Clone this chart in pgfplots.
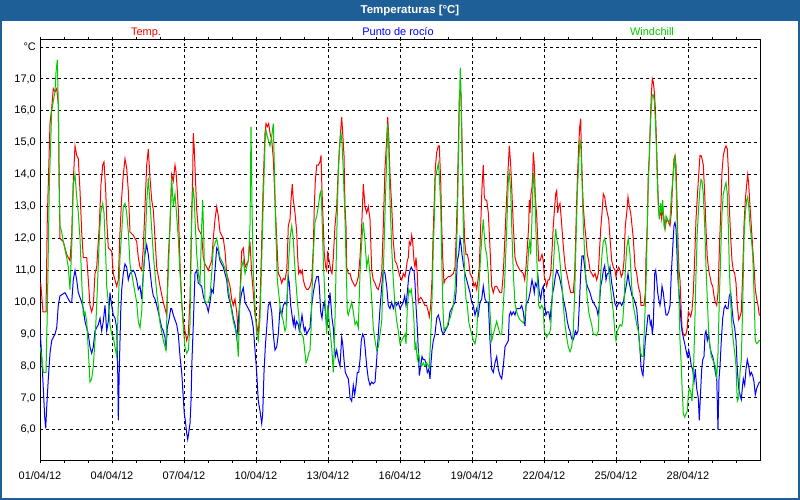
\documentclass[border=0pt]{standalone}
\usepackage{fontspec}
\setmainfont{Liberation Sans}
\usepackage{pgfplots}
\pgfplotsset{compat=1.18}
\usepackage{pgfplotstable}

\definecolor{barblue}{RGB}{30,95,152}
\definecolor{tred}{RGB}{255,0,0}
\definecolor{dblue}{RGB}{0,0,255}
\definecolor{wgreen}{RGB}{0,204,0}

% x = hours since 01/04/12 00:00, y = degrees C
\pgfplotstableread{
h t
0.7 10.6
3 9.7
6 9.7
7.3 12.6
10 15.6
11.7 16.1
13.3 16.7
15 16.6
16.7 16.7
18.3 16.2
19.3 13.5
20 12.0
23.3 11.9
26.7 11.5
30 11.3
31.7 12.1
33.3 13.8
35 14.9
36.7 14.6
38.3 14.5
40 13.5
41.7 12.2
43.3 11.4
46.7 11.4
48.3 10.7
50 9.9
51.7 9.7
53.3 9.9
55 10.9
56.7 11.1
59.3 12.4
61 13.7
62.7 14.3
64 14.4
65.7 13.5
66.7 12.6
68.3 11.7
71.7 11.6
73.3 10.9
76.7 10.5
78.3 10.7
80 12.2
81.7 13.3
83.3 14.0
85 14.5
86.7 14.2
88.3 13.5
90 12.2
93.3 12.1
96.7 11.9
98.3 11.4
100 11.1
101.7 11.0
103.3 11.7
105 13.0
106.7 14.3
108.3 14.8
110 13.9
111.7 13.2
113.3 12.9
115 12.0
116.7 11.1
120 10.5
123.3 10.0
126.7 9.6
128.3 11.4
130 12.4
131.7 14.0
133.3 13.8
135 14.3
136 14.1
137.3 13.5
138.3 12.9
140 11.2
141.7 10.0
143.3 9.4
146.7 8.8
148.3 9.0
150 10.1
151.7 12.8
152.7 14.0
153.3 15.3
154.3 14.8
155.3 14.0
156.7 12.9
158.3 12.3
161.7 12.1
163.3 11.4
165 11.2
168.3 11.0
171.7 11.3
173.3 12.0
175 12.6
176.7 13.0
178.3 12.7
180 12.2
183.3 12.0
185 11.6
186.7 10.9
190 10.5
191.7 10.1
193.3 9.9
195 10.1
196.7 9.7
198.3 9.0
200 10.3
201.7 11.6
203.3 11.7
205 11.1
208.3 11.3
210 11.9
211.7 10.9
213.3 10.3
215 9.6
216.7 9.3
218.3 9.0
220 9.9
221.7 11.9
223.3 13.8
225 15.3
226 15.6
227.3 15.5
228.7 15.6
230 15.3
231.7 15.1
233.3 14.5
235 13.2
236.7 12.0
238.3 10.9
240 10.8
241.7 10.6
243.3 10.75
245 10.7
246.7 11.0
247.3 11.4
248.3 12.4
250 12.6
251 13.2
252.3 13.7
253.3 13.2
254.3 13.0
255.3 12.7
256.7 12.2
257.7 11.4
258.7 10.9
260 11.0
261 10.9
262.3 11.0
263.3 10.7
265 10.5
266.7 10.4
268.3 10.4
270 10.5
271.7 10.7
273.3 11.7
274.3 13.0
275.3 13.8
276.7 14.3
278.3 14.3
280 14.4
281 14.6
282 13.5
283.3 12.4
284.3 11.5
285.7 11.1
286.7 11.0
287.7 11.6
288.3 11.4
289.3 11.3
290.7 11.0
292 10.9
293.3 11.4
295 12.4
296.7 13.0
298.3 14.2
299.3 14.8
300.7 15.4
301.7 15.8
302.7 15.3
304 14.6
305 13.0
306 12.4
306.7 11.1
308.3 10.9
310 10.9
311.7 10.7
313.3 10.6
315 10.5
316.7 10.6
318.3 10.8
320 11.4
321.7 12.4
323.3 13.7
325 13.0
326.7 12.8
328.3 13.0
330 12.6
331.7 11.0
333.3 10.7
335 10.6
336.7 10.45
338.3 10.4
340 10.6
341.7 10.9
343.3 12.4
345 14.2
346.7 15.1
347.7 15.8
348.7 15.2
350 14.0
351.7 13.0
353.3 11.9
355 11.3
356.7 11.2
358.3 11.0
360 10.8
361.7 10.7
363.3 10.9
365 10.8
366 11.0
367.3 11.3
368.3 11.4
369.3 11.9
370.7 11.8
371.7 12.1
372.7 11.9
374 11.3
375 11.1
376 11.4
377.3 10.9
378.3 10.0
379.3 10.1
380.7 10.15
382 10.1
383.3 10.0
385 9.9
386.7 9.9
388.3 9.7
389.3 9.55
390.7 9.9
392 10.7
393.3 12.3
394.3 13.2
395.3 14.2
396.7 14.7
398.3 14.9
399.3 14.9
400.7 13.8
401.7 12.4
402.7 11.4
404 10.6
405 10.7
406.7 10.75
408.3 10.8
410 10.8
411.7 10.85
413.3 10.9
415 11.1
416 11.9
417.3 13.2
418.3 14.8
419.3 16.4
420 16.6
421 16.5
422 15.1
423.3 13.2
424.7 11.9
426 11.5
427.3 11.5
428.7 11.3
430 10.9
431.7 10.8
432.7 10.7
434 10.5
435.3 10.6
436.7 10.4
438 10.7
439.3 11.1
440.7 12.4
442 13.6
443.3 14.3
444.3 13.3
445.3 13.2
446.7 13.2
448.3 12.8
450 11.7
451.7 10.5
453.3 10.3
455 10.5
456.7 10.5
458.3 10.4
460 10.3
461.7 10.3
463.3 10.9
465 12.1
466.7 13.3
468.3 14.3
469.3 14.9
470.7 14.3
471.7 13.6
473.3 12.4
475 11.4
476.7 11.2
478.3 11.1
480 11.0
481.7 10.95
483.3 10.9
484.7 10.7
486 11.1
487.3 11.7
488.7 12.4
489.3 13.2
490 12.8
491 13.4
492 13.6
492.7 14.0
493.3 14.7
494.3 14.3
495.3 13.3
496.7 12.7
497.7 12.0
498.7 11.3
500 11.3
501 11.4
502 11.5
503.3 11.3
504.3 10.8
505.3 10.7
506.7 10.5
508 10.7
509.3 10.7
510.7 10.9
512 11.6
513.3 12.4
514.7 13.0
515.7 13.4
516.7 13.5
517.7 12.8
518.7 13.0
520 13.1
521.3 12.6
522.7 12.0
524 11.5
525.3 11.1
526.7 10.9
528 10.7
529.3 10.5
530.7 10.3
532 10.3
533.3 10.3
534.7 10.9
536 12.4
537.3 13.8
538.7 14.9
539.7 15.5
540.7 15.75
541.3 14.8
542.3 13.8
543.3 13.0
544.7 12.4
546 12.0
547.3 11.5
548.7 11.3
550 11.0
551.7 10.9
553.3 10.8
555 10.9
556.7 10.7
558.3 10.9
559.3 11.5
560.7 12.3
562 12.8
563.3 13.4
564.7 13.3
566 13.0
567.3 12.8
568.7 12.6
570 12.0
571.7 11.3
573.3 11.1
575 11.0
576 10.8
577.3 11.0
578.7 11.1
580 11.0
581.3 10.8
582.7 10.9
584 11.3
585.3 12.4
586.7 12.8
588 13.3
589.3 13.0
590.7 12.8
592 12.4
593.3 12.0
595 11.1
596.7 10.9
598.3 10.5
600 10.3
601 9.9
602.7 9.9
604 9.9
605.3 10.3
606 11.4
607.3 12.4
608.3 14.0
609.3 14.6
610.3 15.6
611.3 16.5
612.3 17.0
613.3 16.9
614.3 16.6
615.3 16.1
616.3 15.2
617.3 14.1
618.3 13.2
619.3 12.7
620.7 12.8
621.7 12.6
622.7 13.0
624 12.6
625 12.3
626 12.5
627.3 12.6
628.7 12.5
630 12.4
631.3 12.8
632.7 13.8
634 14.5
635 14.6
636 14.3
637 13.2
638 11.8
639 11.0
640 10.7
641 9.9
642 9.2
643.3 9.0
644.7 8.95
646 9.0
647.3 9.2
648.3 9.7
649.3 9.65
650.7 9.55
652 9.75
653.3 10.3
654.7 11.4
656 12.6
657.3 13.3
658.7 14.0
660 14.6
661 14.6
662 14.5
663.3 14.3
664.7 13.4
666 12.3
667.3 11.4
668.7 11.0
670 10.8
671.3 10.6
672.7 10.5
674 10.2
675.3 10.0
676.7 9.9
678 10.3
679.3 11.6
680.7 12.8
682 14.1
683.3 14.6
684.7 14.8
686 14.9
687.3 14.8
688.3 14.2
689.3 13.0
690.7 12.0
692 11.3
693.3 11.0
694.7 10.9
696 10.6
697.3 9.9
698.7 9.45
700 9.55
701.3 9.7
702.7 10.9
704 12.4
705.3 13.2
706.7 13.7
707.7 14.0
708.7 13.7
710 13.0
711.3 12.4
712.7 11.7
714 11.1
715.3 10.4
716.7 10.1
718 9.9
719.3 9.6
720 9.6
}\temp

\pgfplotstableread{
h t
0 9.2
1.7 8.3
3.3 7.3
4.7 6.4
5.7 6.05
6.7 6.7
8.3 7.6
10 8.4
11.7 8.8
15 9.0
16.7 9.2
18.3 9.9
20 10.2
25 10.3
26.7 10.2
30 10.0
31.7 10.0
33.3 10.7
35 11.0
36.7 10.7
38.3 10.3
41.7 10.0
43.3 9.8
45 9.4
48.3 9.0
50 8.6
51.7 8.4
53.3 8.6
55 9.1
58.3 9.3
60 9.5
61.7 9.1
63.3 9.4
65 9.9
66.7 9.1
68.3 9.4
70 10.3
71.7 9.9
73.3 9.6
75 9.5
76.7 9.2
77.7 7.9
78.3 6.3
79.3 7.9
80.7 9.7
81.7 10.4
83.3 10.9
85 11.2
86.7 11.1
88.3 10.7
90 10.9
93.3 11.0
95 10.9
96.7 10.7
98.3 10.4
100 10.5
101.7 10.1
103.3 10.9
105 11.5
106.7 11.8
108.3 11.5
110 11.0
111.7 10.5
113.3 10.2
115 10.1
116.7 9.9
118.3 9.7
120 9.45
121.7 9.2
123.3 9.1
125 8.9
126 8.5
127.3 9.2
129.3 9.5
130.7 9.8
131.7 9.8
133.3 9.6
135 9.45
136.7 9.3
138.3 9.0
140 8.3
141.7 7.8
143.3 7.0
144.3 6.5
145.3 6.3
146.7 5.9
147.7 5.7
148.7 5.9
150 6.2
151 6.9
152 8.2
153.3 9.3
155 10.9
156.7 11.0
158.3 10.6
161.7 10.5
163.3 10.2
165 10.0
166.7 9.9
168.3 9.7
170 10.0
171.7 10.4
173.3 10.3
175 11.0
176.7 11.7
178.3 11.6
180 11.3
183.3 11.1
185 10.9
186.7 10.7
188.3 10.2
190 10.0
191.7 9.8
193.3 9.5
195 9.3
196.7 8.9
198.3 9.4
200 10.0
201.7 10.3
203.3 10.45
205 10.0
208.3 9.8
210 9.7
211.7 9.5
213.3 9.2
215 8.5
216.7 7.8
218.3 6.9
220 6.6
221.7 6.2
222.7 6.5
224 7.8
225.3 8.6
226.7 9.2
228.3 9.9
230 10.0
231.7 9.7
233.3 9.0
235 8.5
236.7 8.6
238.3 9.0
240 9.8
241.7 9.6
243.3 9.9
245 10.0
246.7 9.9
248.3 10.8
249.3 10.6
250.7 9.9
252 9.6
253.3 9.3
254.3 9.5
255.3 9.2
256.7 9.4
258.3 9.3
259.3 9.1
260.7 9.3
262 9.6
263.3 9.3
264.3 9.1
265.3 9.2
266.7 9.0
268.3 9.1
270 9.2
271.7 9.9
273.3 10.3
275 10.6
276.7 10.8
278.3 10.8
279.3 10.5
280.7 9.7
282 9.5
283.3 9.9
284.3 10.0
285.7 9.6
286.7 9.2
287.7 9.4
288.7 9.9
290 10.3
291 9.9
292 9.5
293.3 9.2
294.3 8.7
295.3 8.3
296.7 8.5
298.3 8.2
300 8.0
301.7 8.9
302.7 8.7
304 8.2
305.3 7.8
306.7 7.7
308.3 7.6
309.3 7.3
310 7.0
311.7 6.9
313.3 7.4
314.7 7.1
316 7.4
317.3 7.8
318.7 7.8
320 8.2
321.3 8.8
322.7 9.0
324 8.9
325 8.6
326.7 8.0
328.3 7.6
330 7.4
331.7 7.5
333.3 7.45
335 7.5
336.7 8.2
338.3 9.0
340 9.8
341.7 10.5
343.3 11.0
345 10.9
346.7 10.5
348.3 9.9
350 9.8
351.7 10.0
353.3 9.8
355 10.0
356.7 9.9
358.3 10.0
360 9.8
361.7 9.9
363.3 10.0
364.7 10.2
366 9.9
367.3 10.3
368.7 10.8
370 11.0
371.3 11.1
372.7 11.0
374 11.0
375 10.6
376 9.9
377.3 9.2
378.3 8.5
379.3 7.7
380.7 8.0
382 8.3
383.3 8.2
384.7 8.2
386 8.1
387.3 7.8
388.7 7.9
390 7.6
391 8.1
392 8.5
393.3 8.8
395 9.0
396.7 9.5
398.3 9.6
400 9.4
401.7 9.1
403.3 9.0
405 9.1
406.7 9.2
408.3 9.3
410 9.7
411.7 9.8
413.3 9.9
415 10.0
416 10.3
417.3 11.3
418.7 11.5
420 12.0
421 11.8
422 11.5
423.3 11.2
425 10.9
426.7 10.7
428.3 10.5
430 10.3
431.7 10.0
433.3 9.9
435 9.6
436.7 9.8
438.3 9.6
440 10.0
441.7 10.1
443.3 10.5
445 10.1
446.7 10.0
448.3 10.0
450 8.8
451.7 7.9
453.3 7.8
455 8.1
456.7 8.3
458.3 7.9
460 7.7
461.7 7.6
463.3 8.0
465 8.6
466.7 8.7
468.3 8.8
469.3 9.6
470.7 9.7
471.7 9.6
473.3 9.7
475 9.6
476.7 9.8
478.3 9.8
480 9.8
481.7 9.9
483.3 9.7
485 9.25
486 9.9
487.3 10.0
488.7 10.1
490 10.3
491 10.5
492 10.7
493.3 10.5
494.3 10.3
495.3 10.6
496.7 10.5
498 10.8
499.3 10.3
500.7 10.1
502 10.4
503.3 10.5
504.7 9.9
506 9.6
507.3 9.7
508.7 9.7
510 9.45
511.3 9.9
512.7 10.3
514 10.5
515.3 10.8
516.7 11.0
518 10.9
519.3 10.8
520.7 10.6
522 10.4
523.3 10.1
524.7 9.9
526 9.7
527.3 9.4
528.7 9.2
530 9.1
531.3 8.9
532.7 8.8
534 8.9
535.3 9.1
536.7 9.0
538 9.1
539.3 9.9
540.7 10.9
542 11.45
543.3 11.45
544.7 11.1
546 10.7
547.3 10.5
548.7 10.4
550 10.3
551.7 10.1
553.3 10.0
555 9.9
556.7 9.8
558 9.6
559.3 9.9
560.7 10.5
562 10.7
563.3 11.0
564.7 11.15
566 10.7
567.3 10.9
568.7 10.9
570 11.1
571.7 10.6
573.3 10.3
575 9.95
576.7 9.85
578.3 9.95
580 10.0
581.7 9.9
583.3 10.0
585 10.3
586.7 10.6
588 10.9
589.3 10.6
590.7 10.4
592 10.2
593.3 10.15
595 10.0
596.7 9.8
598.3 9.2
600 8.5
601 8.0
602 7.8
603 7.7
604 8.2
605.3 8.8
606.7 9.2
608 9.6
609.3 9.6
610.3 9.3
611.3 9.4
612.3 9.0
613.3 9.3
614.7 10.9
615.7 11.0
616.7 10.7
617.7 10.3
618.7 10.1
620 9.9
621 10.1
622 10.5
623.3 10.3
624.7 9.9
626 9.6
627.3 9.6
628.7 9.7
630 9.9
631.3 10.9
632.7 11.7
634 12.4
635 12.5
636 12.3
637 11.5
638 10.7
639 10.3
640 9.9
641 9.4
642 9.1
643.3 8.9
644.7 8.7
646 8.5
647.3 8.3
648.7 8.5
650 8.3
651.3 8.0
652.7 7.9
654 7.5
655.3 7.9
656.7 7.3
658.3 7.0
659.3 6.3
660.3 7.0
661.7 7.9
662.7 8.2
664 8.3
665 9.0
666 9.1
667.3 8.8
668.7 9.0
670 8.6
671.3 8.4
672.7 8.3
674 8.1
675.3 7.8
676.7 7.6
678 6.0
679 7.6
680 8.0
681.3 8.8
682.7 9.5
684 9.8
685.3 9.9
686.7 9.8
688 9.8
689.3 10.2
690.7 10.3
692 9.8
693.3 9.4
694.7 9.2
696 8.8
697.3 7.9
698.7 7.3
700 7.1
701.3 6.95
702.3 7.3
703.3 7.6
704.7 7.4
706 7.9
707.3 8.2
708.7 8.0
710 7.7
711.3 7.8
712.7 7.7
714 7.5
715.3 7.1
716.7 7.3
718 7.4
719.3 7.5
720 7.5
}\dew

\pgfplotstableread{
h t
0 8.6
1.7 8.3
3.3 7.8
6 7.8
7.3 9.7
9.3 13.6
11.7 16.0
13.3 16.3
15 16.6
16 17.2
17.3 17.6
18.3 16.2
19.3 13.4
20 12.4
21.7 12.2
23.3 11.9
26.7 11.4
28.3 11.1
30 10.4
31.7 11.7
33.3 13.7
35 14.0
36.7 13.3
38.3 12.8
40 12.0
41.7 10.7
43.3 9.6
45 9.7
46.7 9.4
48.3 8.5
50 7.5
51.7 7.6
53.3 8.0
55 8.8
56.7 9.9
59.3 12.0
60.7 12.8
62.7 13.1
64 12.8
65.7 11.5
66.7 10.5
68.3 10.0
70 9.3
71.7 9.0
73.3 8.9
75 8.6
76.7 8.3
78.3 9.9
80 11.4
81.7 12.2
83.3 13.0
85 13.1
86.7 12.8
88.3 12.2
90 11.2
93.3 10.6
96.7 10.0
98.3 9.4
100 9.2
101.7 9.7
103.3 10.9
105 11.7
106.7 13.1
108.3 13.9
110 13.1
111.7 12.3
113.3 11.5
115 10.9
116.7 10.3
118.3 9.9
120 9.35
123.3 8.8
126 8.5
127.3 10.1
129.3 11.8
130.7 13.1
131.7 13.9
133.3 13.0
135 13.4
136.7 12.7
138.3 12.0
140 10.9
141.7 10.0
143.3 9.2
145 8.6
146.7 8.4
148.3 8.5
150 9.3
151 11.4
152 13.0
153.3 13.6
154.3 13.2
155.3 12.4
156.7 11.5
158.3 10.9
160 10.6
161.7 12.4
162.7 13.2
164 11.7
165 10.0
168.3 10.0
170 10.2
171.7 10.9
173.3 11.7
176.7 12.0
180 11.4
183.3 11.2
186.7 10.9
188.3 10.4
190 10.1
191.7 9.7
193.3 9.4
196.7 9.0
198.3 8.3
200 10.2
201.7 11.1
203.3 11.3
205 10.9
208.3 11.3
210 12.4
211 15.5
212 13.0
213.3 10.9
215 9.9
216.7 9.0
218.3 8.8
220 9.5
221.7 11.3
223.3 13.2
225 15.0
226 15.4
227.3 15.2
230 14.9
231.7 15.2
233.3 15.6
234.3 14.3
235.7 12.4
237.3 10.7
239.3 10.1
240 9.9
241.7 9.6
243.3 9.4
245 9.1
246 9.2
247.3 10.3
248.3 11.1
250 12.0
251.7 12.4
253.3 12.0
254.3 11.4
255.3 10.9
256.7 10.3
257.7 9.9
258.7 9.6
260 9.1
261.7 9.0
263.3 8.9
265 8.4
266 8.1
267.3 8.2
268.7 8.4
270 8.5
271 9.1
272 10.3
273.3 11.5
275 12.5
276.7 12.7
278.3 13.0
280 13.4
281 13.5
282 12.7
283.3 11.3
285 10.1
286.7 9.0
287.7 9.9
288.7 9.6
290 9.1
291.7 8.6
293.3 7.8
294.3 8.6
295.3 9.9
296.7 12.0
298.3 14.1
300 15.0
301 15.3
302 15.0
303.3 14.1
305 12.6
306 11.4
307.3 9.7
308.3 9.6
310 9.8
311.7 10.0
313.3 9.7
315 9.3
316.7 9.4
318.3 9.2
320 10.9
321.7 11.9
323.3 12.5
325 11.9
326.7 11.1
328.3 11.4
330 10.9
331.7 10.1
333.3 9.2
335 8.8
336.7 8.5
338.3 8.6
340 9.0
341.7 9.4
343.3 10.9
345 12.8
346.7 14.5
347.7 15.6
348.7 14.9
350 13.2
351.7 11.7
353.3 10.7
355 9.9
356.7 9.4
358.3 9.1
360 8.7
361.7 8.8
363.3 8.9
365 9.0
366 8.7
367.3 9.8
368.7 10.4
370 10.3
371.3 10.4
372.7 10.0
374 9.4
375 8.5
376 8.7
377.3 8.2
378.7 8.4
380 8.1
381.7 8.0
383.3 8.1
385 8.0
386.7 8.1
388.3 8.0
389.3 7.95
390.7 8.9
392 10.1
393.3 11.7
394.3 12.6
395.3 13.9
396.7 14.1
398.3 14.35
399.3 14.0
400.7 13.0
401.7 11.4
402.7 10.0
404 9.1
405 9.2
406.7 9.2
408.3 9.4
410 9.5
411.7 9.7
413.3 9.9
415 10.4
416 11.1
417.3 12.5
418.3 14.3
419.3 16.1
420.3 17.35
421 16.6
422 14.7
423.3 12.4
424.7 10.7
426 10.1
427.3 9.9
428.7 9.4
430 9.2
431.7 9.0
433.3 8.8
435 8.7
436.7 9.0
438 9.9
439.3 10.7
440.7 11.5
442 12.1
443.3 12.6
444.3 12.1
445.3 11.7
446.7 11.5
448.3 10.9
450 9.7
451.7 8.8
453.3 9.0
455 9.2
456.7 9.4
458.3 9.2
460 9.0
461.7 9.0
463.3 9.9
465 10.9
466.7 12.3
468.3 13.8
469.3 14.05
470.7 13.5
471.7 12.4
473.3 10.9
475 9.95
476.7 9.7
478.3 9.55
480 9.45
481.7 9.4
483.3 9.35
484.7 9.45
486 9.9
487.3 10.9
488.7 11.7
489.7 11.9
490.7 11.5
491.7 12.4
492.7 13.4
493.3 14.05
494 13.85
495 13.3
496 12.2
497.3 10.9
498.7 9.9
500 9.8
501.7 9.9
503.3 9.8
504.3 9.1
505.3 9.0
506.7 8.9
508 9.0
509.3 9.0
510.7 9.2
512 10.0
513.3 11.1
514.7 11.9
515.7 12.3
516.7 12.0
518 11.8
519.3 11.5
520.7 11.0
522 10.5
523.3 9.9
525 9.3
526.7 8.9
528.3 8.6
530 8.45
531.7 8.6
533.3 9.1
534.7 10.3
536 11.9
537.3 13.4
538.7 14.4
540 15.1
541 14.8
542 13.8
543.3 12.4
544.7 11.5
546 10.7
547.3 10.1
548.7 9.7
550 9.5
551.7 9.3
553.3 9.0
555 9.0
556.7 8.95
558.3 9.1
559.3 9.9
560.7 10.9
562 11.5
563.3 11.9
564.7 12.0
566 11.8
567.3 11.4
568.7 11.0
570 10.6
571.7 10.1
573.3 9.7
575 9.0
576 8.8
577.3 9.1
578.7 9.2
580 9.3
581.7 9.25
582.7 9.4
584 10.0
585.3 11.0
586.7 11.7
588.3 12.0
590 11.5
591.7 10.5
593.3 9.9
595 9.6
596.7 9.3
598.3 9.1
600 8.5
601.7 8.3
603.3 8.3
604 8.9
605.3 9.9
606.3 10.9
607.3 12.4
608.3 13.8
609.3 14.5
610.3 15.5
611.3 16.1
612.3 16.5
613.3 16.5
614.3 16.3
615.3 15.7
616.3 14.9
617.3 13.8
618.3 13.0
619.3 12.6
620.7 13.1
621.7 12.8
622.7 13.2
624 12.4
625 12.3
626 12.7
627.3 12.6
628.7 12.5
630 12.6
631.3 13.3
632.7 13.8
634 14.3
635 14.6
636 13.8
637 12.6
638 11.3
639 10.1
640 8.8
641 8.2
642 7.4
643.3 6.5
644.7 6.4
646 6.5
647.3 6.6
648.3 7.1
649.3 7.3
650.7 7.2
652 6.9
653.3 7.6
654.7 9.2
656 10.9
657.3 12.2
658.7 13.0
660 13.6
661 13.85
662 13.8
663.3 13.4
664.7 12.4
666 11.1
667.3 10.1
668.7 9.0
670 8.6
671.3 8.3
672.7 8.2
674 8.1
675.3 8.0
676.7 7.6
678 8.4
679.3 10.1
680.7 11.5
682 12.8
683.3 13.4
684.7 13.6
686 13.75
687.3 13.4
688.3 12.4
689.3 11.1
690.7 10.0
692 9.2
693.3 8.8
694.7 8.4
696 8.0
697.3 6.9
698.7 7.0
700 7.8
701.3 8.2
702.7 9.9
704 12.0
705.3 12.8
706.7 13.2
707.7 13.3
708.7 13.0
710 12.4
711.3 12.0
712.7 11.5
714 10.3
715.3 8.8
716.7 8.7
718 8.75
719.3 8.8
720 8.8
}\wind

\begin{document}
\begin{tikzpicture}[x=1bp,y=1bp]
  % window frame
  \fill[white] (0,0) rectangle (800,500);
  \fill[barblue] (0,479) rectangle (800,500);
  \draw[barblue, line width=2bp] (1,1) rectangle (799,499);
  \node[text=white, font=\bfseries\fontsize{11.5}{13}\selectfont] at (410,489.5) {Temperaturas [°C]};
  % series names
  \node[anchor=base, text=tred, font=\fontsize{11}{13}\selectfont] at (146,464) {Temp.};
  \node[anchor=base, text=dblue, font=\fontsize{11}{13}\selectfont] at (398,464) {Punto de rocío};
  \node[anchor=base, text=wgreen, font=\fontsize{11}{13}\selectfont] at (652,464) {Windchill};

  \begin{axis}[
      at={(40bp,39.5bp)}, anchor=south west,
      scale only axis,
      width=720bp, height=420.5bp,
      xmin=0, xmax=720,
      ymin=5.04, ymax=18.22,
      axis line style={black, line width=1bp},
      xtick={0,72,...,648},
      xticklabels={01/04/12,04/04/12,07/04/12,10/04/12,13/04/12,16/04/12,19/04/12,22/04/12,25/04/12,28/04/12},
      minor xtick={24,48,...,696},
      ytick={6,7,...,18},
      yticklabels={{6,0},{7,0},{8,0},{9,0},{10,0},{11,0},{12,0},{13,0},{14,0},{15,0},{16,0},{17,0},°C},
      grid=major,
      major grid style={black, line width=1bp, dash pattern=on 3bp off 3bp},
      tick align=outside,
      major tick length=3bp, minor tick length=3bp,
      xtick style={black, line width=1bp},
      ytick style={draw=none},
      tick label style={font=\fontsize{11}{13}\selectfont, text=black},
      xticklabel style={anchor=north, inner sep=0pt, yshift=-8bp},
      yticklabel style={anchor=east, inner sep=0pt, xshift=-1bp},
    ]
    \addplot[tred, line width=1bp] table[x=h, y=t] {\temp};
    \addplot[dblue, line width=1bp] table[x=h, y=t] {\dew};
    \addplot[wgreen, line width=1bp] table[x=h, y=t] {\wind};
  \end{axis}
\end{tikzpicture}
\end{document}
